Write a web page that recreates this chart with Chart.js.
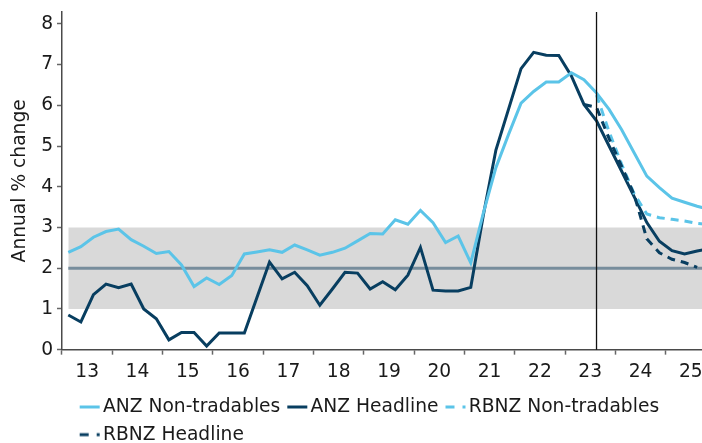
<!DOCTYPE html>
<html><head><meta charset="utf-8">
<script src="https://cdn.jsdelivr.net/npm/chart.js@4"></script>
<style>
html,body{margin:0;padding:0;overflow:hidden;background:#fff;width:702px;height:443px}
#wrap{position:absolute;left:0;top:0;width:716px;height:454px}
</style>
</head><body>
<div id="wrap"><canvas id="c" width="716" height="454"></canvas></div>
<script>
// ---- data ----
const quarters = ['2013Q1','2013Q2','2013Q3','2013Q4','2014Q1','2014Q2','2014Q3','2014Q4',
 '2015Q1','2015Q2','2015Q3','2015Q4','2016Q1','2016Q2','2016Q3','2016Q4',
 '2017Q1','2017Q2','2017Q3','2017Q4','2018Q1','2018Q2','2018Q3','2018Q4',
 '2019Q1','2019Q2','2019Q3','2019Q4','2020Q1','2020Q2','2020Q3','2020Q4',
 '2021Q1','2021Q2','2021Q3','2021Q4','2022Q1','2022Q2','2022Q3','2022Q4',
 '2023Q1','2023Q2','2023Q3','2023Q4','2024Q1','2024Q2','2024Q3','2024Q4',
 '2025Q1','2025Q2','2025Q3','2025Q4'];
const yearTickLabels = ['13','14','15','16','17','18','19','20','21','22','23','24','25'];
const yTickValues = [0,1,2,3,4,5,6,7,8];
const anzNonTradables = [2.39,2.53,2.76,2.90,2.96,2.70,2.54,2.36,2.41,2.08,
 1.55,1.76,1.60,1.82,2.35,2.40,2.45,2.39,2.57,2.45,
 2.32,2.39,2.49,2.67,2.85,2.84,3.19,3.08,3.42,3.12,
 2.63,2.79,2.13,3.35,4.47,5.28,6.05,6.34,6.57,6.57,
 6.80,6.63,6.30,5.90,5.40,4.83,4.26,3.98,3.72,3.62,
 3.52,3.44];
const anzHeadline = [0.85,0.68,1.35,1.61,1.52,1.61,1.00,0.76,0.24,0.42,
 0.42,0.09,0.41,0.41,0.41,1.28,2.15,1.74,1.90,1.57,
 1.09,1.49,1.90,1.88,1.49,1.67,1.47,1.83,2.51,1.46,
 1.44,1.44,1.53,3.30,4.90,5.90,6.90,7.30,7.23,7.22,
 6.72,6.02,5.62,5.00,4.38,3.75,3.12,2.66,2.43,2.35,
 2.42,2.48];
const rbnzNonTradables = Array(42).fill(null).concat(
 [6.25,5.35,4.55,3.82,3.33,3.24,3.20,3.16,3.10,3.07]);
const rbnzHeadline = Array(41).fill(null).concat(
 [6.02,5.95,5.18,4.50,3.80,2.72,2.38,2.22,2.14,2.02,null]);
const targetRange = [1, 3];
const targetMidpoint = 2;
const forecastStart = '2023Q3';

// ---- style ----
const FONT = 'DejaVu Sans';
const FS = 18.67;
const NAVY = '#083e60', SKY = '#5bc4e8', MID = '#778d9c', BAND = '#d9d9d9';
const TXT = '#1a1a1a', AXIS = '#4a4a4a';

function swatch(color, dash){
  const c = document.createElement('canvas');
  c.width = 40; c.height = 6;
  const g = c.getContext('2d');
  g.strokeStyle = color; g.lineWidth = 3; g.setLineDash(dash);
  g.beginPath(); g.moveTo(12,3); g.lineTo(32,3); g.stroke();
  return c;
}
const legendItems = [
  {text:'ANZ Non-tradables', color:SKY, dash:[]},
  {text:'ANZ Headline', color:NAVY, dash:[]},
  {text:'RBNZ Non-tradables', color:SKY, dash:[9,8]},
  {text:'RBNZ Headline', color:NAVY, dash:[9,8]}
];

const lineBase = {pointRadius:0, pointHoverRadius:0, borderWidth:3, tension:0, fill:false, spanGaps:false};

const forecastLine = {
  id:'forecastLine',
  afterDatasetsDraw(chart){
    const ctx = chart.ctx, x = chart.scales.x.getPixelForValue(quarters.indexOf(forecastStart));
    const {top, bottom} = chart.chartArea;
    ctx.save(); ctx.strokeStyle = '#111'; ctx.lineWidth = 1.3;
    ctx.beginPath(); ctx.moveTo(x, top); ctx.lineTo(x, bottom); ctx.stroke(); ctx.restore();
  }
};
const legendShift = {
  id:'legendShift',
  afterLayout(chart){ if (chart.legend) chart.legend.left = 72.67; }
};

new Chart(document.getElementById('c'), {
  type:'line',
  data:{
    labels: quarters,
    datasets:[
      Object.assign({label:'RBNZ Headline', data:rbnzHeadline, borderColor:NAVY, borderDash:[8,6]}, lineBase),
      Object.assign({label:'RBNZ Non-tradables', data:rbnzNonTradables, borderColor:SKY, borderDash:[8,6]}, lineBase),
      Object.assign({label:'ANZ Non-tradables', data:anzNonTradables, borderColor:SKY}, lineBase),
      Object.assign({label:'ANZ Headline', data:anzHeadline, borderColor:NAVY}, lineBase),
      Object.assign({label:'Target midpoint', data:quarters.map(()=>targetMidpoint), borderColor:MID}, lineBase),
      {label:'Target band', data:quarters.map(()=>targetRange[1]), borderWidth:0, borderColor:'rgba(0,0,0,0)',
       backgroundColor:BAND, pointRadius:0, fill:{value:targetRange[0]}}
    ]
  },
  options:{
    responsive:false, animation:false, devicePixelRatio:1,
    layout:{padding:{top:12, left:0, right:0, bottom:0}},
    plugins:{
      tooltip:{enabled:false},
      legend:{
        position:'bottom', align:'start',
        labels:{
          usePointStyle:true, pointStyleWidth:12, boxWidth:12, boxHeight:6, padding:9,
          color:TXT, font:{family:FONT, size:FS},
          generateLabels:()=>legendItems.map((it,i)=>({
            text:it.text, fillStyle:it.color, strokeStyle:it.color, lineWidth:0,
            pointStyle:swatch(it.color, it.dash), hidden:false, datasetIndex:i, fontColor:TXT
          }))
        }
      }
    },
    scales:{
      x:{
        type:'category', offset:true,
        grid:{display:true, drawOnChartArea:false, offset:true, tickLength:5, tickWidth:1.5,
              tickColor:(c)=> (c.index % 4 === 0) ? '#666' : 'rgba(0,0,0,0)'},
        border:{display:true, color:AXIS, width:1.5},
        ticks:{autoSkip:false, maxRotation:0, minRotation:0, padding:6, labelOffset:6.29,
               color:TXT, font:{family:FONT, size:FS},
               callback:(v,i)=> (i % 4 === 1) ? yearTickLabels[Math.floor(i/4)] : ''},
        afterFit:(s)=>{ s.height = 39; s.paddingLeft = 0; s.paddingRight = 0; }
      },
      y:{
        min:0, max:8.29,
        afterBuildTicks:(s)=>{ s.ticks = yTickValues.map(v => ({value:v})); },
        ticks:{stepSize:1, padding:4, color:TXT, font:{family:FONT, size:FS}},
        grid:{display:true, drawOnChartArea:false, tickLength:5, tickWidth:1.5, tickColor:'#666'},
        border:{display:true, color:AXIS, width:1.5},
        title:{display:true, text:'Annual % change', color:TXT, font:{family:FONT, size:FS}, padding:{top:8.5, bottom:0}},
        afterFit:(s)=>{ s.width = 62; s.paddingTop = 0; s.paddingBottom = 0; }
      }
    }
  },
  plugins:[forecastLine, legendShift]
});
</script>
</body></html>
